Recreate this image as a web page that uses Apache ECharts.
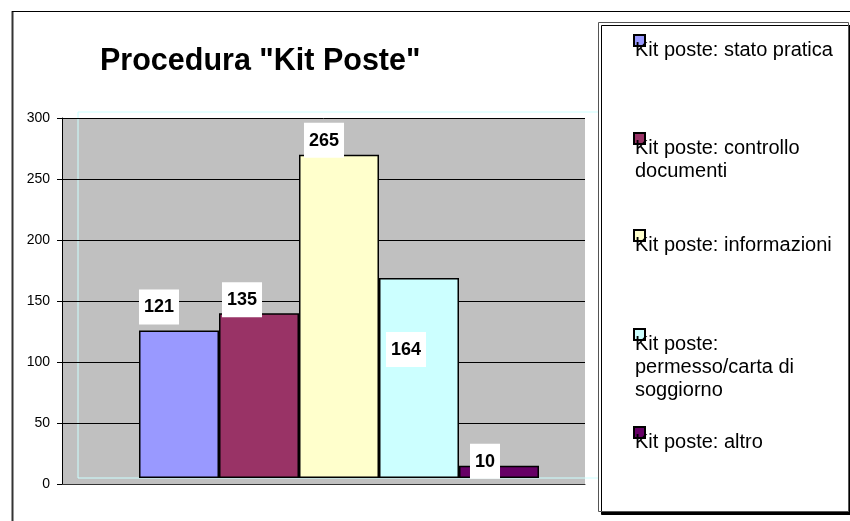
<!DOCTYPE html>
<html>
<head>
<meta charset="utf-8">
<script src="https://cdn.jsdelivr.net/npm/echarts@6/dist/echarts.min.js"></script>
<style>
  html, body { margin: 0; padding: 0; background: #fff; }
  #chart { width: 850px; height: 521px; }
</style>
</head>
<body>
<div id="chart"></div>
<script>
// data
var seriesNames = ['Kit poste: stato pratica', 'Kit poste: controllo documenti', 'Kit poste: informazioni',
    'Kit poste: permesso/carta di soggiorno', 'Kit poste: altro'];
var seriesValues = [121, 135, 265, 164, 10];
// how the legend texts wrap in the picture
var legendLines = [
    ['Kit poste: stato pratica'],
    ['Kit poste: controllo', 'documenti'],
    ['Kit poste: informazioni'],
    ['Kit poste:', 'permesso/carta di', 'soggiorno'],
    ['Kit poste: altro']
];
var yMin = 0, yMax = 300, yStep = 50;

var colors = ['#9999FF', '#993366', '#FFFFCC', '#CCFFFF', '#660066'];
// excel put the value labels in odd places, so each gets its own nudge
var labelOffsets = [[-20, -1], [-17, 9], [-15, 8], [-13, 94], [-14, 18]];
var markerTops = [35, 133, 230, 329, 427];

var chart = echarts.init(document.getElementById('chart'));
var font = 'Liberation Sans, Arial, sans-serif';
var lineH = 23;

var series = [];
var legends = [];
for (var i = 0; i < seriesNames.length; i++) {
    series.push({
        name: seriesNames[i],
        type: 'bar',
        xAxisIndex: 1,
        yAxisIndex: 1,
        barWidth: 80,
        barGap: '0%',
        data: [seriesValues[i]],
        itemStyle: { color: colors[i], borderColor: '#000', borderWidth: 1.5 },
        label: {
            show: true,
            position: 'top',
            offset: labelOffsets[i],
            color: '#000',
            fontFamily: font,
            fontWeight: 'bold',
            fontSize: 18,
            backgroundColor: '#fff',
            padding: [9, 5, 8, 5]
        }
    });

    var n = legendLines[i].length;
    var blank = lineH * (n - 1) + 20;
    var blockH = blank + n * lineH;
    var rich = { t: { fontSize: 20, lineHeight: lineH, fontFamily: font, color: '#000' } };
    rich['s' + n] = { lineHeight: blank, fontSize: 10 };
    legends.push({
        data: [seriesNames[i]],
        orient: 'vertical',
        left: 633,
        // tuned by eye against the reference
        top: markerTops[i] + 5.5 - blockH / 2 + 5 + 11.5 * (n - 1),
        padding: 0,
        icon: 'rect',
        itemWidth: 11,
        itemHeight: 11,
        selectedMode: false,
        formatter: (function (lines, k) {
            return function () {
                return '{s' + k + '| }\n' + lines.map(function (l) { return '{t|' + l + '}'; }).join('\n');
            };
        })(legendLines[i], n),
        textStyle: { padding: [0, 0, 0, -15], rich: rich }
    });
}

var option = {
    animation: false,
    backgroundColor: '#fff',
    title: {
        text: 'Procedura "Kit Poste"',
        left: 95,
        top: 41,
        textStyle: { fontFamily: font, fontWeight: 'bold', fontSize: 30.5, color: '#000' }
    },
    legend: legends,
    grid: [
        { left: 62, right: 265, top: 118, bottom: 37, show: true, backgroundColor: '#C0C0C0', borderWidth: 0 },
        { left: 78, right: 250, top: 112, bottom: 43, show: true, backgroundColor: 'transparent',
          borderColor: '#CCFFFF', borderWidth: 1 }
    ],
    xAxis: [
        { type: 'category', gridIndex: 0, data: [''],
          axisLine: { lineStyle: { color: '#333', width: 1 } },
          axisTick: { show: false }, axisLabel: { show: false } },
        { type: 'category', gridIndex: 1, data: [''], show: false }
    ],
    yAxis: [
        { type: 'value', gridIndex: 0, min: yMin, max: yMax, interval: yStep,
          axisLine: { show: true, lineStyle: { color: '#000', width: 1 } },
          axisTick: { show: true, length: 5, lineStyle: { color: '#000' } },
          axisLabel: { color: '#000', fontFamily: font, fontSize: 14, margin: 12 },
          splitLine: { lineStyle: { color: '#000', width: 1 } } },
        { type: 'value', gridIndex: 1, min: yMin, max: yMax, interval: yStep, show: false,
          splitLine: { show: false } }
    ],
    graphic: [
        { type: 'line', z: 1, shape: { x1: 12.5, y1: 11, x2: 12.5, y2: 521 },
          style: { stroke: '#333', lineWidth: 2 } },
        { type: 'line', z: 1, shape: { x1: 12, y1: 11.5, x2: 850, y2: 11.5 },
          style: { stroke: '#000', lineWidth: 1 } },
        { type: 'rect', z: 3, shape: { x: 598.5, y: 22.5, width: 250, height: 489 },
          style: { fill: '#fff', stroke: '#555', lineWidth: 1,
                   shadowColor: '#000', shadowOffsetX: 3, shadowOffsetY: 3, shadowBlur: 0 } }
    ],
    series: series
};

chart.setOption(option);
</script>
</body>
</html>
